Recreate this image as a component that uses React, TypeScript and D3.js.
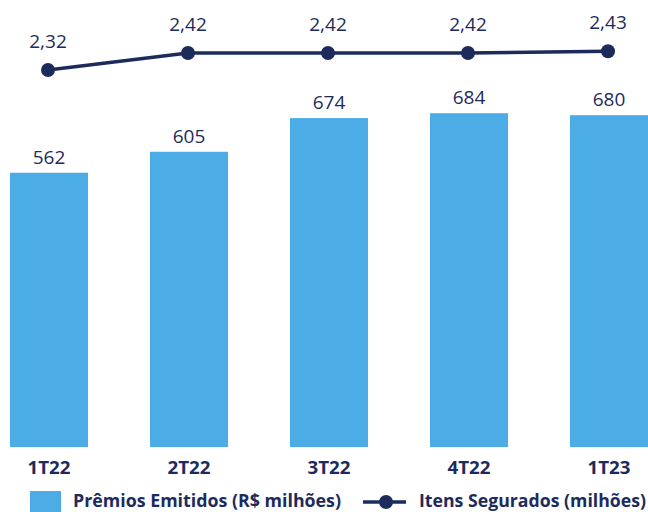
import React from "react";
import * as d3 from "d3";

const categories = ["1T22", "2T22", "3T22", "4T22", "1T23"];
const premios = [562, 605, 674, 684, 680];
const itens = [2.32, 2.42, 2.42, 2.42, 2.43];
const premiosLabels = ["562", "605", "674", "684", "680"];
const itensLabels = ["2,32", "2,42", "2,42", "2,42", "2,43"];
const legendBar = "Prêmios Emitidos (R$ milhões)";
const legendLine = "Itens Segurados (milhões)";

const W = 648;
const H = 512;
const BAR = "#4BACE6";
const NAVY = "#1D2B5C";
const FONT = "'Open Sans', sans-serif";

export default function App() {
  const x = d3
    .scaleBand<string>()
    .domain(categories)
    .range([-21, 679])
    .paddingInner(0.443)
    .paddingOuter(0.2215);
  const yBar = d3.scaleLinear().domain([0, 916]).range([447, 0]);
  const yLine = d3.scaleLinear().domain([2.0, 2.6]).range([124.4, 22.4]);
  const cx = (c: string) => (x(c) as number) + x.bandwidth() / 2;
  const lineGen = d3
    .line<number>()
    .x((_, i) => cx(categories[i]) - 1)
    .y((v) => yLine(v));

  return (
    <svg
      width={W}
      height={H}
      style={{ position: "absolute", left: 0, top: 0, background: "#fff" }}
      fontFamily={FONT}
    >
      {categories.map((c, i) => (
        <g key={c}>
          <rect
            x={x(c)}
            y={yBar(premios[i])}
            width={x.bandwidth()}
            height={yBar(0) - yBar(premios[i])}
            fill={BAR}
          />
          <text
            x={cx(c)}
            y={yBar(premios[i]) - 9}
            textAnchor="middle"
            fontSize={19}
            fill={NAVY}
          >
            {premiosLabels[i]}
          </text>
          <text
            x={cx(c)}
            y={474}
            textAnchor="middle"
            fontSize={17.5}
            fontWeight="bold"
            fill={NAVY}
            textLength={43}
            lengthAdjust="spacingAndGlyphs"
          >
            {c}
          </text>
        </g>
      ))}
      <path d={lineGen(itens) || ""} fill="none" stroke={NAVY} strokeWidth={3.5} />
      {categories.map((c, i) => (
        <g key={"p" + c}>
          <circle cx={cx(c) - 1} cy={yLine(itens[i])} r={7} fill={NAVY} />
          <text
            x={cx(c) - 1}
            y={yLine(itens[i]) - 22}
            textAnchor="middle"
            fontSize={19}
            fill={NAVY}
          >
            {itensLabels[i]}
          </text>
        </g>
      ))}
      <rect x={30} y={491} width={31} height={22} fill={BAR} />
      <text x={73} y={507} fontSize={17} fontWeight="bold" fill={NAVY} textLength={268} lengthAdjust="spacingAndGlyphs">
        {legendBar}
      </text>
      <line x1={363} x2={406} y1={502} y2={502} stroke={NAVY} strokeWidth={3.5} />
      <circle cx={386} cy={502} r={7} fill={NAVY} />
      <text x={419} y={507} fontSize={17} fontWeight="bold" fill={NAVY} textLength={227} lengthAdjust="spacingAndGlyphs">
        {legendLine}
      </text>
    </svg>
  );
}
